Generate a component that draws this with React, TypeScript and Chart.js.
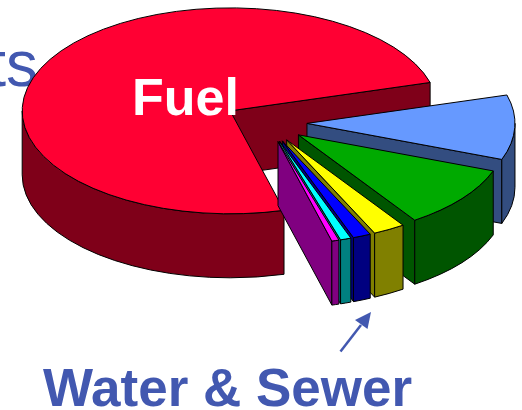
import { useEffect, useRef } from "react";
import { Chart, registerables } from "chart.js";

Chart.register(...registerables);

// Share of spending per category, in percent, clockwise from the lower front edge.
const categories = ["Fuel", "Equipment", "Labor", "Water & Sewer", "Electric", "Gas", "Other"];
const shares = [74.72, 10.14, 9.86, 2.5, 1.39, 0.83, 0.56];
const topColors = ["#FF0033", "#6699FF", "#00AA00", "#FFFF00", "#0000FF", "#00FFFF", "#FF00FF"];
const wallColors = ["#7F0019", "#334D80", "#005500", "#808000", "#000080", "#008080", "#800080"];

const TITLE_TAIL = "ts";
const CALLOUT = "Water & Sewer";
const INK = "#4258B0";

// Oblique view of the pie: centre on the page, radius, vertical squash, wall height, explosion.
// Slices wider than a half turn sit further back, so they get a small extra shift.
const VIEW = { cx: 267, cy: 122.6, radius: 208, squash: 0.495, depth: 64, explode: 40, backX: -2, backY: -2 };

const pie3d = {
  id: "pie3d",
  beforeDatasetsDraw(chart: any) {
    // Tail of the headline sits behind the pie.
    const ctx = chart.ctx;
    ctx.save();
    ctx.fillStyle = INK;
    ctx.font = '64px "Liberation Sans"';
    ctx.textAlign = "right";
    ctx.textBaseline = "alphabetic";
    ctx.fillText(TITLE_TAIL, 38, 86);
    ctx.restore();
  },
  beforeDatasetDraw(chart: any) {
    const ctx = chart.ctx;
    const { cx, cy, radius, squash, depth, explode, backX, backY } = VIEW;
    chart.getDatasetMeta(0).data.forEach((arc: any, i: number) => {
      const a0 = arc.startAngle;
      const a1 = arc.endAngle;
      const mid = (a0 + a1) / 2;
      const isBack = a1 - a0 > Math.PI;
      const ox = cx + explode * Math.cos(mid) + (isBack ? backX : 0);
      const oy = cy + explode * squash * Math.sin(mid) + (isBack ? backY : 0);
      const rx = radius;
      const ry = radius * squash;
      const rim = (a: number, drop = 0) => [ox + rx * Math.cos(a), oy + ry * Math.sin(a) + drop];

      ctx.save();
      ctx.lineWidth = 1;
      ctx.strokeStyle = "#000";
      ctx.lineJoin = "round";
      ctx.fillStyle = wallColors[i];

      const wall = (a: number) => {
        const [x, y] = rim(a);
        ctx.beginPath();
        ctx.moveTo(ox, oy);
        ctx.lineTo(x, y);
        ctx.lineTo(x, y + depth);
        ctx.lineTo(ox, oy + depth);
        ctx.closePath();
        ctx.fill();
        ctx.stroke();
      };
      // Cut faces: only the ones turned toward the viewer.
      if (Math.cos(a0) < 0) wall(a0);
      if (Math.cos(a1) > 0) wall(a1);

      // Curved outer face, front half of the rim only.
      const tau = Math.PI * 2;
      for (const k of [-1, 0, 1]) {
        const from = Math.max(a0, k * tau);
        const to = Math.min(a1, k * tau + Math.PI);
        if (to <= from) continue;
        const [x0, y0] = rim(from);
        const [x1, y1] = rim(to);
        ctx.beginPath();
        ctx.moveTo(x0, y0);
        ctx.ellipse(ox, oy, rx, ry, 0, from, to);
        ctx.lineTo(x1, y1 + depth);
        ctx.ellipse(ox, oy + depth, rx, ry, 0, to, from, true);
        ctx.closePath();
        ctx.fill();
        ctx.stroke();
      }

      // Top face comes from the chart's own arc element, flattened into the view.
      ctx.save();
      ctx.translate(ox, oy);
      ctx.scale(rx / arc.outerRadius, ry / arc.outerRadius);
      ctx.translate(-arc.x, -arc.y);
      arc.draw(ctx);
      ctx.restore();

      ctx.beginPath();
      ctx.moveTo(ox, oy);
      ctx.ellipse(ox, oy, rx, ry, 0, a0, a1);
      ctx.closePath();
      ctx.stroke();
      ctx.restore();
    });
    return false;
  },
  afterDatasetsDraw(chart: any) {
    const ctx = chart.ctx;
    ctx.save();
    ctx.textBaseline = "alphabetic";
    ctx.textAlign = "left";

    ctx.fillStyle = "#FFFFFF";
    ctx.font = 'bold 52px "Liberation Sans"';
    ctx.fillText(categories[0], 132, 115);

    ctx.fillStyle = INK;
    ctx.font = 'bold 53px "Liberation Sans"';
    ctx.fillText(CALLOUT, 43, 406);

    // Arrow from the callout up to its slice.
    ctx.strokeStyle = INK;
    ctx.lineWidth = 2.5;
    ctx.beginPath();
    ctx.moveTo(340.5, 351.5);
    ctx.lineTo(361, 325);
    ctx.stroke();
    ctx.beginPath();
    ctx.moveTo(371, 312);
    ctx.lineTo(355, 320);
    ctx.lineTo(367.5, 329);
    ctx.closePath();
    ctx.fill();
    ctx.restore();
  },
};

export default function App() {
  const ref = useRef<HTMLCanvasElement>(null);
  useEffect(() => {
    document.body.style.margin = "0";
    const chart = new Chart(ref.current!, {
      type: "pie",
      data: {
        labels: categories,
        datasets: [{ data: shares, backgroundColor: topColors, borderWidth: 0 }],
      },
      options: {
        responsive: false,
        animation: false,
        events: [],
        rotation: 165,
        plugins: { legend: { display: false }, tooltip: { enabled: false } },
      },
      plugins: [pie3d],
    } as any);
    return () => chart.destroy();
  }, []);
  return <canvas ref={ref} width={522} height={410} style={{ display: "block", background: "#fff" }} />;
}
